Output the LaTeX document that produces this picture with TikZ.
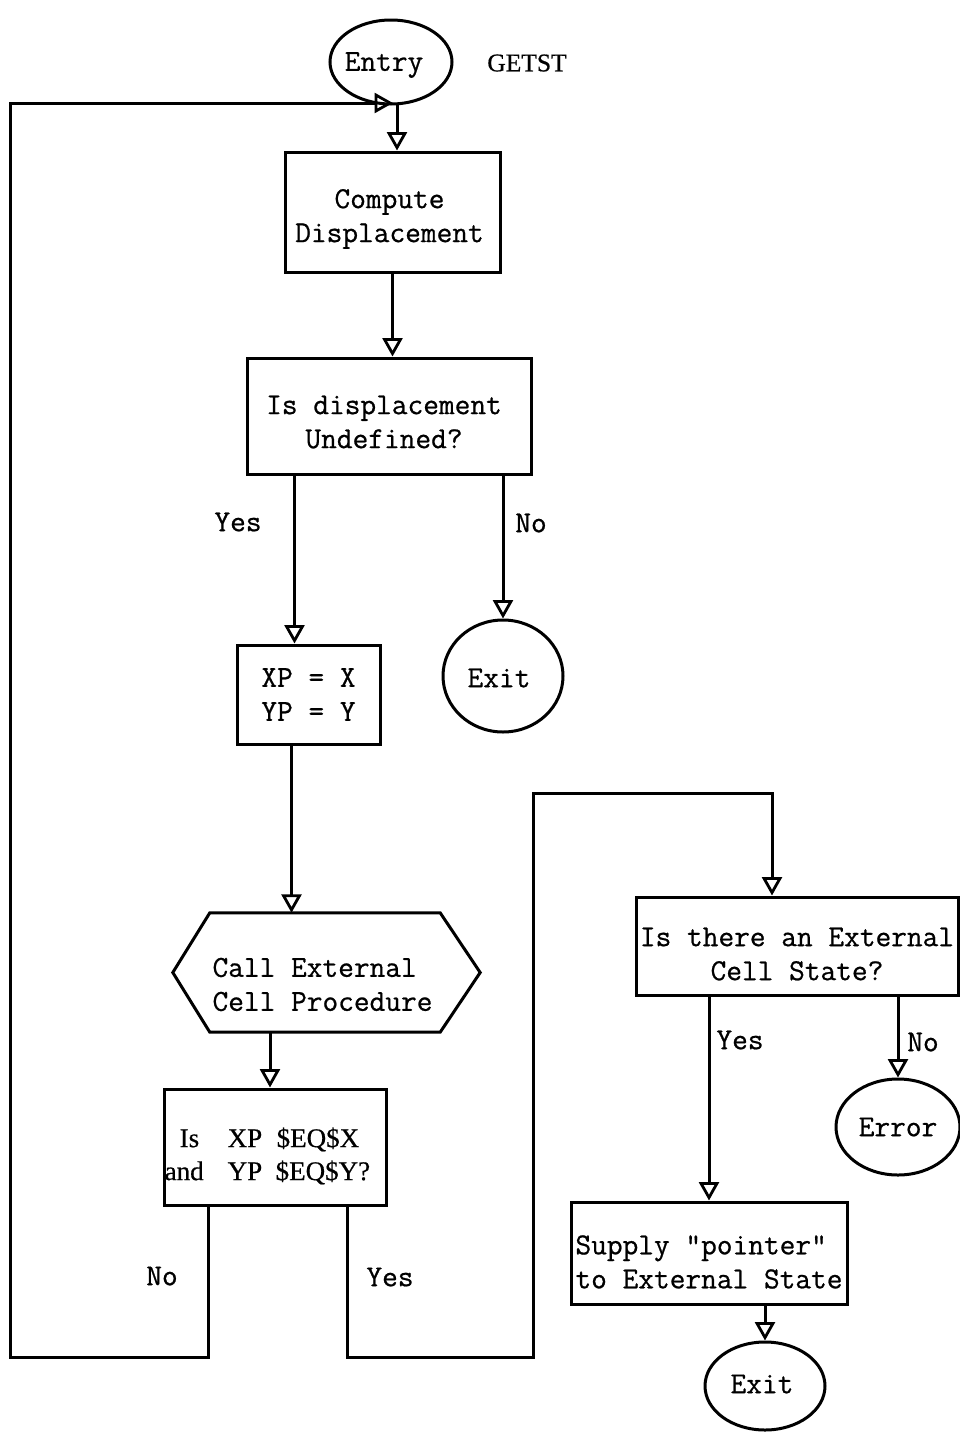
\documentclass[tikz,border=0pt]{standalone}
\usepackage{fontspec}
\newfontfamily\typer[FakeBold=0.7]{Latin Modern Mono}
\newfontfamily\plainserif[FakeBold=0.6]{Liberation Serif}
\usetikzlibrary{arrows.meta,shapes.geometric}

\tikzset{
  flow/.style={line width=3pt, line join=miter},
  arr/.style={flow, -{Triangle[open,length=18.5pt,width=20pt,line width=2.8pt]}},
  proc/.style={draw, line width=3pt, rectangle, inner sep=0pt},
  term/.style={draw, line width=3pt, ellipse, inner sep=0pt},
  txt/.style={inner sep=0pt, align=center, font=\fontsize{30.5}{34}\selectfont\typer},
  lbl/.style={txt},
}

\begin{document}
\begin{tikzpicture}[x=1pt,y=-1pt]
\useasboundingbox (0,0) rectangle (960,1438);

% terminals
\node[term, minimum width=122pt, minimum height=84pt] (entry) at (391,62) {};
\node[txt] (entryT) at ([xshift=-7pt,yshift=-3pt]entry.center) {Entry};
\node[inner sep=0pt, font=\fontsize{25.5}{30}\selectfont\plainserif] (name) at (527,63) {GETST};
\node[term, minimum width=120pt, minimum height=112pt] (exitA) at (503,676) {};
\node[txt] (exitAT) at ([xshift=-4pt,yshift=-2pt]exitA.center) {Exit};
\node[term, minimum width=124pt, minimum height=96pt] (err) at (898,1127) {};
\node[txt] (errT) at (err.center) {Error};
\node[term, minimum width=120pt, minimum height=88pt] (exitB) at (765,1386) {};
\node[txt] (exitBT) at ([xshift=-3pt,yshift=2pt]exitB.center) {Exit};

% process and decision boxes
\node[proc, minimum width=215pt, minimum height=120pt] (comp) at (392.5,212) {};
\node[txt] (compT) at ([xshift=-3pt,yshift=-7pt]comp.center) {Compute\\Displacement};
\node[proc, minimum width=284pt, minimum height=116pt] (undef) at (389,416) {};
\node[txt] (undefT) at ([xshift=-5pt,yshift=-6pt]undef.center) {Is displacement\\Undefined?};
\node[proc, minimum width=143pt, minimum height=99pt] (xp) at (308.5,694.5) {};
\node[txt] (xpT) at (xp.center) {XP = X\\YP = Y};

\node[inner sep=0pt, minimum width=307pt, minimum height=119pt] (hex) at (326.5,972.5) {};
\draw[flow] ([xshift=37pt]hex.north west) -- ([xshift=-40pt]hex.north east)
  -- (hex.east) -- ([xshift=-40pt]hex.south east) -- ([xshift=37pt]hex.south west)
  -- (hex.west) -- cycle;
\node[txt, align=left] (hexT) at ([xshift=-4pt,yshift=-12pt]hex.center) {Call External\\Cell Procedure};

\node[proc, minimum width=222pt, minimum height=116pt] (eq) at (275,1147) {};
\node[txt, align=left, anchor=west, font=\fontsize{27}{33}\selectfont\plainserif] (eqT)
  at ([xshift=2pt,yshift=-9pt]eq.west)
  {\makebox[63pt][l]{\hspace{15pt}Is}\makebox[49pt][l]{XP}\$EQ\$X\\
   \makebox[63pt][l]{and}\makebox[48pt][l]{YP}\$EQ\$Y?};
\node[proc, minimum width=322pt, minimum height=98pt] (ext) at (797,946) {};
\node[txt] (extT) at ([yshift=-8pt]ext.center) {Is there an External\\Cell State?};
\node[proc, minimum width=276pt, minimum height=102pt] (sup) at (709,1253) {};
\node[txt, align=left] (supT) at ([yshift=-9pt]sup.center) {Supply "pointer"\\to External State};

% junctions of the loop lines
\coordinate (join) at (397,103);
\coordinate (noDown) at (208,1357);
\coordinate (loopCorner) at (10,1357);
\coordinate (loopTop) at (10,103);
\coordinate (yesDown) at (347,1357);
\coordinate (yesRight) at (533,1357);
\coordinate (yesUp) at (533,793);
\coordinate (yesOver) at (772,793);

% main column
\draw[flow] (entry.south -| join) -- (join);
\draw[arr] (join) -- (join |- comp.north);
\draw[arr] (comp.south) -- (comp.south |- undef.north);
\draw[arr] ([xshift=49pt]undef.south west) -- ([xshift=49pt]undef.south west |- xp.north);
\draw[arr] (exitA.north |- undef.south) -- (exitA.north);
\draw[arr] ([xshift=56pt]xp.south west) -- ([xshift=56pt]xp.south west |- hex.north);
\draw[arr] ([xshift=-56.5pt]hex.south) -- ([xshift=-56.5pt]hex.south |- eq.north);

% loop back to the entry
\draw[arr] (noDown |- eq.south) -- (noDown) -- (loopCorner) -- (loopTop) -- ([xshift=-4pt]join);

% yes path to the external state test
\draw[arr] (yesDown |- eq.south) -- (yesDown) -- (yesRight) -- (yesUp) -- (yesOver) -- (yesOver |- ext.north);

% right column
\draw[arr] (sup.north |- ext.south) -- (sup.north);
\draw[arr] (err.north |- ext.south) -- (err.north);
\draw[arr] (exitB.north |- sup.south) -- (exitB.north);

% branch labels
\node[lbl] (l1) at (238,522) {Yes};
\node[lbl] (l2) at (531,523) {No};
\node[lbl] (l3) at (162,1276) {No};
\node[lbl] (l4) at (390,1277) {Yes};
\node[lbl] (l5) at (740,1040) {Yes};
\node[lbl] (l6) at (923,1042) {No};
\end{tikzpicture}
\end{document}
